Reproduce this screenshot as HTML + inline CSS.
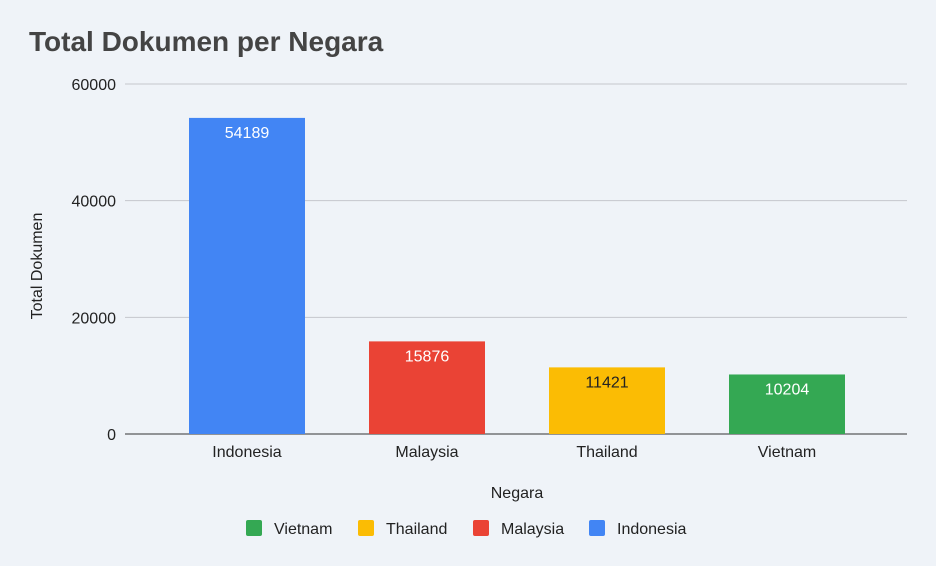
<!DOCTYPE html>
<html><head><meta charset="utf-8"><style>
html,body{margin:0;padding:0;background:#eff3f8;}
svg{display:block;font-family:"Liberation Sans",Arial,sans-serif;}
</style></head><body>
<svg id="chart" width="936" height="566" viewBox="0 0 936 566">
<rect width="936" height="566" fill="#eff3f8"/>
<text x="29" y="51" font-size="28" font-weight="bold" fill="#444">Total Dokumen per Negara</text>
<text x="42" y="266" font-size="16" fill="#222" text-anchor="middle" transform="rotate(-90 42 266)">Total Dokumen</text>
<text x="517" y="498" font-size="16" fill="#222" text-anchor="middle">Negara</text>
<g id="grid"></g><g id="bars"></g><g id="legend"></g>
</svg>
<script>
const categories = ["Indonesia","Malaysia","Thailand","Vietnam"];
const values = [54189,15876,11421,10204];
const colors = ["#4285f4","#ea4335","#fbbc04","#34a853"];
const labelColors = ["#fff","#fff","#222","#fff"];
const yTicks = [0,20000,40000,60000];
const legendOrder = [3,2,1,0];
const NS="http://www.w3.org/2000/svg";
const y0=434, y1=84, yMax=60000, plotL=157, band=180, barW=116;
const yScale=v=>y0-(v/yMax)*(y0-y1);
const xCenter=i=>plotL+band*(i+0.5);
function mk(tag,attrs,parent){const e=document.createElementNS(NS,tag);for(const k in attrs)e.setAttribute(k,attrs[k]);parent.appendChild(e);return e;}
const grid=document.getElementById('grid');
yTicks.forEach(t=>{
  const l=mk('line',{x1:125,x2:907,y1:yScale(t),y2:yScale(t),stroke:t===0?'#333':'#c4c7cc','stroke-width':1},grid);
  
  
  const tx=mk('text',{x:116,y:yScale(t)+6,'font-size':16,fill:'#222','text-anchor':'end'},grid);
  tx.textContent=t;
  
  
});
const bars=document.getElementById('bars');
categories.forEach((c,i)=>{
  const x=xCenter(i)-barW/2, y=yScale(values[i]);
  const r=mk('rect',{x:x,y:y,width:barW,height:y0-y,fill:colors[i]},bars);
  
  
  const v=mk('text',{x:xCenter(i),y:y+20,'font-size':16,fill:labelColors[i],'text-anchor':'middle'},bars);
  v.textContent=values[i];
  
  
  const xl=mk('text',{x:xCenter(i),y:457,'font-size':16,fill:'#222','text-anchor':'middle'},bars);
  xl.textContent=c;
  
  
});
const legend=document.getElementById('legend');
const lx=[246,358,473,589];
legendOrder.forEach((idx,j)=>{
  const s=mk('rect',{x:lx[j],y:520,width:16,height:16,rx:2,fill:colors[idx]},legend);
  
  
  const t=mk('text',{x:lx[j]+28,y:534,'font-size':16,fill:'#222'},legend);
  t.textContent=categories[idx];
  
  
});
</script>
</body></html>
